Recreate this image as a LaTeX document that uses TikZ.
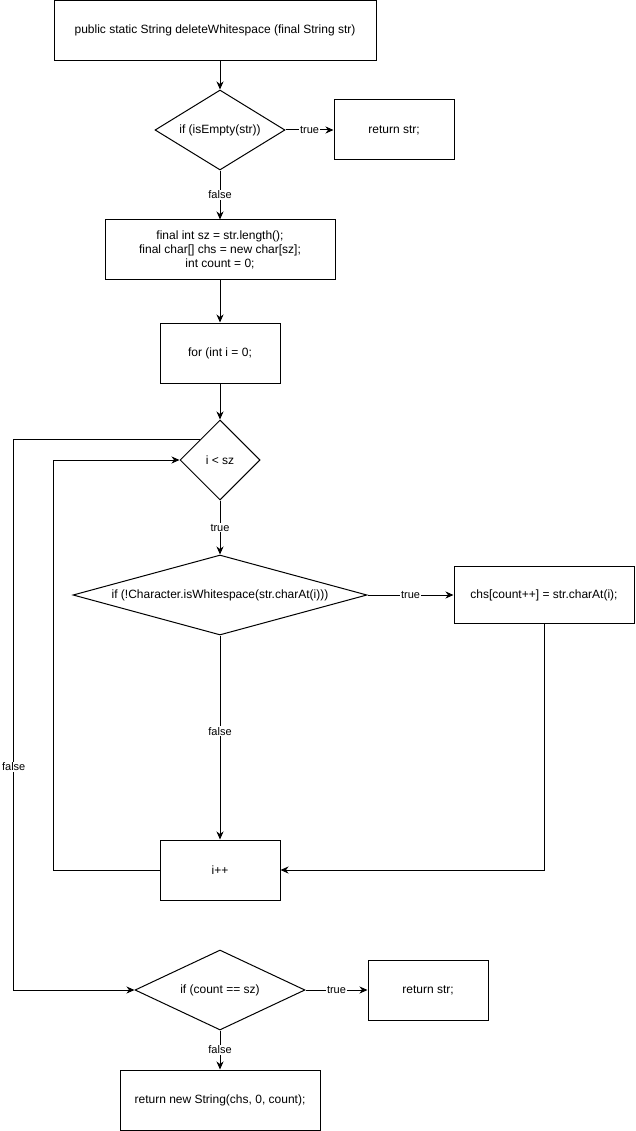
\documentclass[tikz,border=0pt]{standalone}
\usepackage{fontspec}
\setmainfont{Liberation Sans}
\usetikzlibrary{shapes.geometric,arrows.meta}

\begin{document}
\begin{tikzpicture}[x=1pt, y=-1pt, line width=1pt, align=center,
  font=\fontsize{12}{14}\selectfont,
  box/.style={draw, rectangle, inner sep=2pt, minimum height=60pt},
  decision/.style={draw, diamond, inner sep=0pt, minimum height=80pt},
  lbl/.style={fill=white, inner sep=1pt, font=\fontsize{11}{13}\selectfont},
  arr/.style={-{Stealth[length=8pt, width=7pt, inset=2.5pt]}}]
\useasboundingbox (0,0) rectangle (635,1131);
% nodes
\node[box, minimum width=322pt] (sig) at (215,30.5) {public static String deleteWhitespace (final String str)};
\node[decision, minimum width=130pt, aspect=1.625] (chk1) at (220,130) {if (isEmpty(str))};
\node[box, minimum width=120pt] (ret1) at (394,130) {return str;};
\node[box, minimum width=230pt] (init) at (220,250) {final int sz = str.length();\\final char[] chs = new char[sz];\\int count = 0;};
\node[box, minimum width=120pt] (loopinit) at (220,353) {for (int i = 0;};
\node[decision, minimum width=80pt, aspect=1] (cond) at (220,460) {i < sz};
\node[decision, minimum width=294pt, aspect=3.675] (ws) at (220,595) {if (!Character.isWhitespace(str.charAt(i)))};
\node[box, minimum width=180pt, minimum height=57pt] (put) at (544,595) {chs[count++] = str.charAt(i);};
\node[box, minimum width=120pt] (inc) at (220,870) {i++};
\node[decision, minimum width=170pt, aspect=2.125] (check) at (220,990) {if (count == sz)};
\node[box, minimum width=120pt] (ret2) at (428,990) {return str;};
\node[box, minimum width=200pt] (ret3) at (220,1100) {return new String(chs, 0, count);};
% connectors
\draw[arr] (sig.south -| chk1.north) -- (chk1);
\draw[arr] (chk1) -- node[lbl]{true} (ret1);
\draw[arr] (chk1) -- node[lbl]{false} (init);
\draw[arr] (init) -- (loopinit);
\draw[arr] (loopinit) -- (cond);
\draw[arr] (cond) -- node[lbl]{true} (ws);
\draw[arr] (ws) -- node[lbl]{true} (put);
\draw[arr] (ws) -- node[lbl, pos=0.47]{false} (inc);
\draw[arr] (put.south) |- (inc.east);
\draw[arr] (inc.west) -- ++(-106,0) |- (cond.west);
\draw[arr] (cond.north west) -- ++(-186,0) |- node[lbl, pos=0.297]{false} (check.west);
\draw[arr] (check) -- node[lbl]{true} (ret2);
\draw[arr] (check) -- node[lbl]{false} (ret3);
\end{tikzpicture}
\end{document}
